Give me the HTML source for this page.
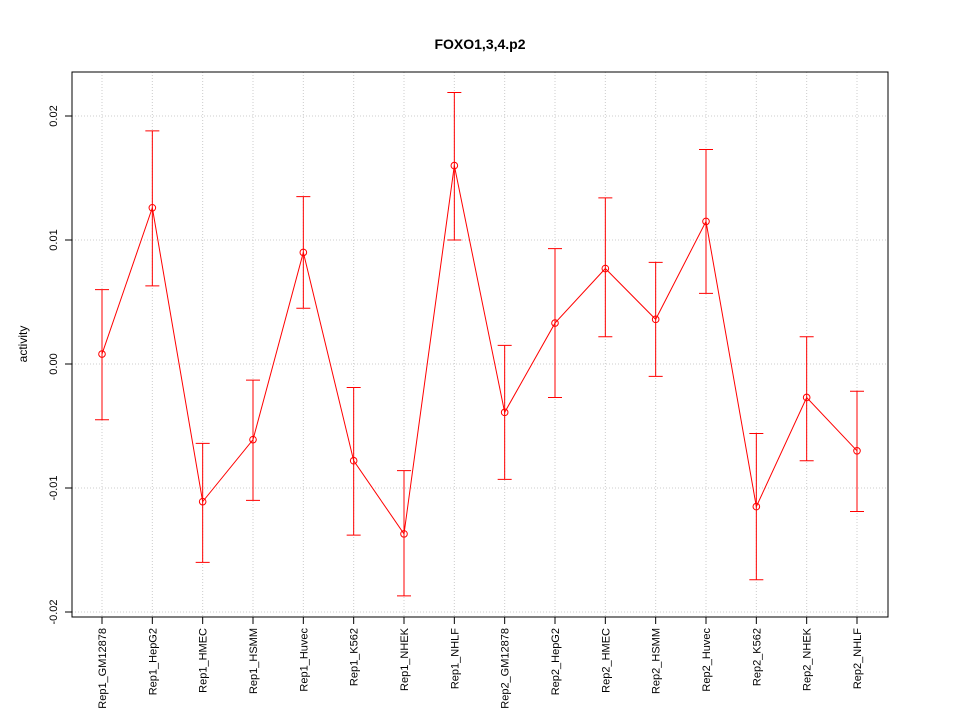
<!DOCTYPE html>
<html><head><meta charset="utf-8"><style>
html,body{margin:0;padding:0;background:#fff;}
svg text{font-family:"Liberation Sans",sans-serif;}
</style></head><body>
<svg id="chart" width="960" height="720" viewBox="0 0 960 720" xmlns="http://www.w3.org/2000/svg">
<text x="480" y="49" text-anchor="middle" font-size="14" font-weight="bold">FOXO1,3,4.p2</text>
<text x="0" y="0" transform="translate(27,344) rotate(-90)" text-anchor="middle" font-size="12">activity</text>
<g id="grid"></g>
<g id="axes"></g>
<g id="marks"></g>
<rect x="72" y="72" width="816" height="545" fill="none" stroke="#000" stroke-width="1"/>
</svg>
<script>
const categories = ["Rep1_GM12878","Rep1_HepG2","Rep1_HMEC","Rep1_HSMM","Rep1_Huvec","Rep1_K562","Rep1_NHEK","Rep1_NHLF","Rep2_GM12878","Rep2_HepG2","Rep2_HMEC","Rep2_HSMM","Rep2_Huvec","Rep2_K562","Rep2_NHEK","Rep2_NHLF"];
const values = [0.0008,0.0126,-0.0111,-0.0061,0.0090,-0.0078,-0.0137,0.0160,-0.0039,0.0033,0.0077,0.0036,0.0115,-0.0115,-0.0027,-0.0070];
const upper = [0.0060,0.0188,-0.0064,-0.0013,0.0135,-0.0019,-0.0086,0.0219,0.0015,0.0093,0.0134,0.0082,0.0173,-0.0056,0.0022,-0.0022];
const lower = [-0.0045,0.0063,-0.0160,-0.0110,0.0045,-0.0138,-0.0187,0.0100,-0.0093,-0.0027,0.0022,-0.0010,0.0057,-0.0174,-0.0078,-0.0119];
const yTicks = [-0.02,-0.01,0.00,0.01,0.02];
const yTickLabels = ["-0.02","-0.01","0.00","0.01","0.02"];

const NS="http://www.w3.org/2000/svg";
function xs(i){return 102+i*(857-102)/(categories.length-1);}
function ys(v){return 364-v*12400;}
function mk(tag,attrs,parent){const e=document.createElementNS(NS,tag);for(const k in attrs)e.setAttribute(k,attrs[k]);parent.appendChild(e);return e;}
const grid=document.getElementById('grid'),axes=document.getElementById('axes'),marks=document.getElementById('marks');
categories.forEach((c,i)=>{
  const g=mk('line',{x1:xs(i),x2:xs(i),y1:72,y2:617,stroke:'#ccc','stroke-dasharray':'1,2'},grid);
  
  
  const t=mk('line',{x1:xs(i),x2:xs(i),y1:617,y2:624,stroke:'#000'},axes);
  
  
  const l=mk('text',{x:0,y:0,transform:`translate(${xs(i)+4},628) rotate(-90)`,'text-anchor':'end','font-size':'11'},axes);
  l.textContent=c;
  
  
});
yTicks.forEach((v,i)=>{
  const g=mk('line',{x1:72,x2:888,y1:ys(v),y2:ys(v),stroke:'#ccc','stroke-dasharray':'1,2'},grid);
  
  
  const t=mk('line',{x1:65,x2:72,y1:ys(v),y2:ys(v),stroke:'#000'},axes);
  
  
  const l=mk('text',{x:0,y:0,transform:`translate(57,${ys(v)}) rotate(-90)`,'text-anchor':'middle','font-size':'11'},axes);
  l.textContent=yTickLabels[i];
  
  
});
const pl=mk('polyline',{points:values.map((v,i)=>xs(i)+','+ys(v)).join(' '),fill:'none',stroke:'#f00','stroke-width':1},marks);


values.forEach((v,i)=>{
  const x=xs(i);
  const eb=mk('path',{d:`M${x},${ys(upper[i])}V${ys(lower[i])}M${x-7},${ys(upper[i])}H${x+7}M${x-7},${ys(lower[i])}H${x+7}`,stroke:'#f00','stroke-width':1,fill:'none'},marks);
  
  
  const p=mk('circle',{cx:x,cy:ys(v),r:3.3,fill:'none',stroke:'#f00','stroke-width':1},marks);
  
  
});
</script>
</body></html>
